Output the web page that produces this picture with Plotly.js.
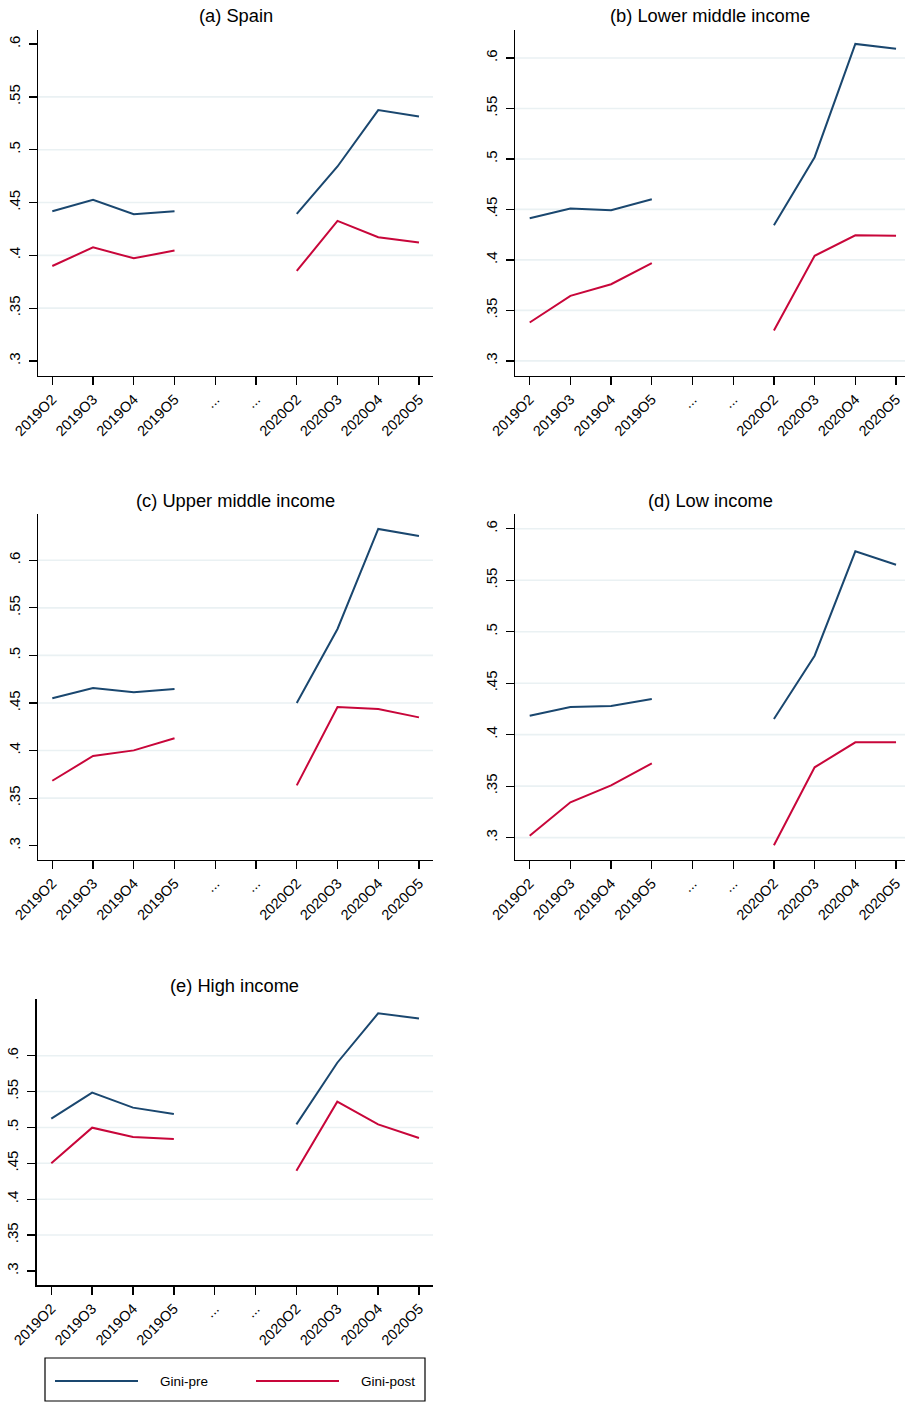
<!DOCTYPE html>
<html>
<head>
<meta charset="utf-8">
<script src="https://cdn.plot.ly/plotly-3.0.1.min.js"></script>
<style>html,body{margin:0;padding:0;background:#fff;}#chart{width:906px;height:1403px;}</style>
</head>
<body>
<div id="chart"></div>
<script>
// ---- data ----
const periods = ["2019O2","2019O3","2019O4","2019O5","...","...","2020O2","2020O3","2020O4","2020O5"];
const yTickVals = [0.3,0.35,0.4,0.45,0.5,0.55,0.6];
const yTickText = [".3",".35",".4",".45",".5",".55",".6"];

const titles = ["(a) Spain","(b) Lower middle income","(c) Upper middle income","(d) Low income","(e) High income"];

const spainPre  = [0.4418,0.4525,0.4389,0.4418,null,null,0.4392,0.4841,0.5375,0.5315];
const spainPost = [0.3899,0.4076,0.3972,0.4045,null,null,0.3852,0.4326,0.4171,0.4121];
const lowerMidPre  = [0.4413,0.4508,0.4492,0.4601,null,null,0.4343,0.5017,0.6139,0.6092];
const lowerMidPost = [0.3380,0.3644,0.3759,0.3967,null,null,0.3300,0.4040,0.4244,0.4238];
const upperMidPre  = [0.4549,0.4658,0.4612,0.4647,null,null,0.4500,0.5278,0.6329,0.6256];
const upperMidPost = [0.3683,0.3943,0.4002,0.4129,null,null,0.3634,0.4458,0.4437,0.4349];
const lowPre  = [0.4184,0.4269,0.4278,0.4346,null,null,0.4152,0.4767,0.5780,0.5650];
const lowPost = [0.3019,0.3343,0.3508,0.3722,null,null,0.2926,0.3683,0.3926,0.3926];
const highPre  = [0.5122,0.5485,0.5276,0.5187,null,null,0.5043,0.5902,0.6590,0.6520];
const highPost = [0.4500,0.4997,0.4867,0.4839,null,null,0.4398,0.5359,0.5043,0.4853];

const seriesNames = ["Gini-pre","Gini-post"];

// ---- layout config (pixels) ----
const W = 906, H = 1403;
const panels = [
  {pre: spainPre, post: spainPost, px:[38,433], py:[30,376], xr:[-0.351,9.344], yr:[0.2858,0.6133], grid:[0.35,0.4,0.45,0.5,0.55], ty:16},
  {pre: lowerMidPre, post: lowerMidPost, px:[515,905], py:[30,376], xr:[-0.361,9.22], yr:[0.285,0.6277], grid:[0.3,0.35,0.4,0.45,0.5,0.55,0.6], ty:16},
  {pre: upperMidPre, post: upperMidPost, px:[38,433], py:[514.3,860], xr:[-0.351,9.344], yr:[0.285,0.6483], grid:[0.35,0.4,0.45,0.5,0.55,0.6], ty:500},
  {pre: lowPre, post: lowPost, px:[515,905], py:[514.3,860], xr:[-0.361,9.22], yr:[0.2783,0.614], grid:[0.3,0.35,0.4,0.45,0.5,0.55,0.6], ty:500},
  {pre: highPre, post: highPost, px:[36.7,433], py:[999.3,1285.3], xr:[-0.357,9.343], yr:[0.280,0.6786], grid:[0.35,0.4,0.45,0.5,0.55,0.6], ty:985}
];
const colPre = "#1a476f", colPost = "#c8063a";
const FONT = "Liberation Sans, Arial, Helvetica, sans-serif";

const px2x = p => p / W;
const px2y = p => 1 - p / H;

const xIdx = periods.map((_, i) => i);
const data = [];
const layout = {
  width: W, height: H,
  margin: {l:0, r:0, t:0, b:0},
  paper_bgcolor: "#fff", plot_bgcolor: "#fff",
  showlegend: false,
  font: {family: FONT, color: "#000"},
  shapes: [], annotations: []
};

panels.forEach((p, k) => {
  const n = k === 0 ? "" : String(k + 1);
  const xa = "x" + n, ya = "y" + n;
  data.push({x: xIdx, y: p.pre, xaxis: xa, yaxis: ya, type: "scatter", mode: "lines",
             name: seriesNames[0], line: {color: colPre, width: 2}, connectgaps: false, hoverinfo: "skip"});
  data.push({x: xIdx, y: p.post, xaxis: xa, yaxis: ya, type: "scatter", mode: "lines",
             name: seriesNames[1], line: {color: colPost, width: 2}, connectgaps: false, hoverinfo: "skip"});
  layout["xaxis" + n] = {
    domain: [px2x(p.px[0]), px2x(p.px[1])], anchor: ya, range: p.xr,
    tickmode: "array", tickvals: xIdx, ticktext: periods, tickangle: -45,
    ticks: "outside", ticklen: 8, tickwidth: 1.3, tickcolor: "#000",
    showline: true, linecolor: "#000", linewidth: 1.3, showgrid: false, zeroline: false,
    tickfont: {size: 14.5, family: FONT, color: "#000"}, fixedrange: true
  };
  layout["yaxis" + n] = {
    domain: [px2y(p.py[1]), px2y(p.py[0])], anchor: xa, range: p.yr,
    tickmode: "array", tickvals: yTickVals, ticktext: yTickText, tickangle: -90,
    ticks: "outside", ticklen: 8, tickwidth: 1.3, tickcolor: "#000",
    showline: true, linecolor: "#000", linewidth: 1.3, showgrid: false, zeroline: false,
    ticklabelstandoff: 3,
    tickfont: {size: 15, family: FONT, color: "#000"}, fixedrange: true
  };
  p.grid.forEach(g => {
    layout.shapes.push({type: "line", xref: xa + " domain", yref: ya, x0: 0, x1: 1, y0: g, y1: g,
                        line: {color: "#eaf1f3", width: 1.6}, layer: "below"});
  });
  layout.annotations.push({text: titles[k], xref: "paper", yref: "paper",
    x: px2x((p.px[0] + p.px[1]) / 2), y: px2y(p.ty), xanchor: "center", yanchor: "middle",
    showarrow: false, font: {size: 18.3, family: FONT, color: "#000"}});
});

// legend box (drawn in paper space)
layout.shapes.push({type: "rect", xref: "paper", yref: "paper", x0: px2x(45), x1: px2x(425), y0: px2y(1401), y1: px2y(1358),
                    line: {color: "#000", width: 1.2}, fillcolor: "rgba(0,0,0,0)"});
layout.shapes.push({type: "line", xref: "paper", yref: "paper", x0: px2x(55), x1: px2x(138), y0: px2y(1381), y1: px2y(1381),
                    line: {color: colPre, width: 2}});
layout.shapes.push({type: "line", xref: "paper", yref: "paper", x0: px2x(256), x1: px2x(339), y0: px2y(1381), y1: px2y(1381),
                    line: {color: colPost, width: 2}});
layout.annotations.push({text: seriesNames[0], xref: "paper", yref: "paper", x: px2x(158), y: px2y(1381),
  xanchor: "left", yanchor: "middle", showarrow: false, font: {size: 13.5, family: FONT, color: "#000"}});
layout.annotations.push({text: seriesNames[1], xref: "paper", yref: "paper", x: px2x(359), y: px2y(1381),
  xanchor: "left", yanchor: "middle", showarrow: false, font: {size: 13.5, family: FONT, color: "#000"}});

Plotly.newPlot("chart", data, layout, {staticPlot: true, displayModeBar: false});
</script>
</body>
</html>
